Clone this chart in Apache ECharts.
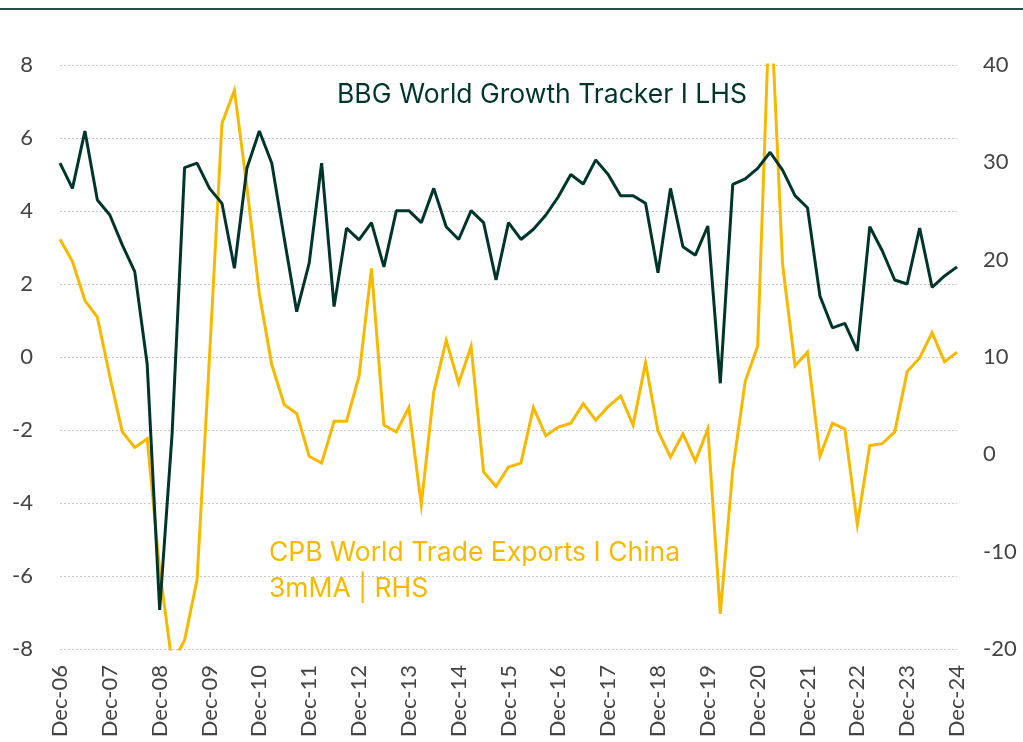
<!DOCTYPE html>
<html>
<head>
<meta charset="utf-8">
<script src="https://cdn.jsdelivr.net/npm/echarts@6/dist/echarts.min.js"></script>
<style>
html,body{margin:0;padding:0;background:#fff;}
#chart{width:1023px;height:742px;}
</style>
</head>
<body>
<div id="chart"></div>
<script>
// Year-end tick labels (quarterly data between them)
const yearLabels = ['Dec-06','Dec-07','Dec-08','Dec-09','Dec-10','Dec-11','Dec-12','Dec-13','Dec-14','Dec-15','Dec-16','Dec-17','Dec-18','Dec-19','Dec-20','Dec-21','Dec-22','Dec-23','Dec-24'];
const quarterMonths = ['Mar','Jun','Sep'];

// BBG World Growth Tracker (LHS), quarterly Dec-06 .. Dec-24
const bbgGrowth = [
  5.31, 4.62, 6.19, 4.30, 3.89, 3.07, 2.34, -0.20, -6.93, -2.09,
  5.19, 5.31, 4.62, 4.21, 2.43, 5.17, 6.19, 5.31, 3.25, 1.24,
  2.57, 5.31, 1.38, 3.53, 3.21, 3.68, 2.47, 4.01, 4.01, 3.68,
  4.62, 3.57, 3.22, 4.01, 3.68, 2.11, 3.68, 3.22, 3.50, 3.89,
  4.39, 5.00, 4.74, 5.40, 5.00, 4.42, 4.42, 4.21, 2.31, 4.62,
  3.02, 2.79, 3.59, -0.72, 4.73, 4.88, 5.17, 5.61, 5.12, 4.42,
  4.09, 1.67, 0.80, 0.92, 0.17, 3.57, 2.91, 2.11, 2.00, 3.53,
  1.91, 2.22, 2.47
];

// CPB World Trade Exports China 3mMA (RHS)
const cpbChina = [
  22.1, 19.8, 15.8, 14.1, 8.0, 2.3, 0.7, 1.6, -11.9, -21.5,
  -19.1, -12.9, 10.0, 34.0, 37.4, 27.5, 16.5, 9.2, 5.1, 4.2,
  -0.2, -0.9, 3.4, 3.4, 8.0, 19.1, 3.0, 2.3, 4.8, -5.2,
  6.4, 11.7, 7.3, 11.1, -1.8, -3.3, -1.3, -0.9, 4.8, 1.9,
  2.8, 3.2, 5.2, 3.5, 4.9, 6.0, 3.0, 9.4, 2.4, -0.3,
  2.1, -0.7, 2.6, -16.4, -1.6, 7.5, 11.1, 48.0, 19.5, 9.1,
  10.5, -0.2, 3.2, 2.6, -7.2, 0.9, 1.1, 2.3, 8.5, 9.9,
  12.5, 9.5, 10.5
];

const categories = [];
yearLabels.forEach((lab, i) => {
  categories.push(lab);
  if (i < yearLabels.length - 1) {
    const yy = lab.slice(4);
    const next = String((parseInt(yy, 10) + 1)).padStart(2, '0');
    quarterMonths.forEach(m => categories.push(m + '-' + next));
  }
});

const darkGreen = '#00352c';
const gold = '#f7b900';
const tickFont = { color: '#444444', fontSize: 22, fontFamily: 'Lato, sans-serif' };

const chart = echarts.init(document.getElementById('chart'));
chart.setOption({
  animation: false,
  backgroundColor: '#ffffff',
  grid: { left: 60, right: 66, top: 65, bottom: 93, containLabel: false },
  xAxis: {
    type: 'category',
    data: categories,
    boundaryGap: false,
    axisLine: { show: false },
    axisTick: { show: false },
    axisLabel: Object.assign({
      interval: 3, rotate: 90, margin: 16
    }, tickFont),
    splitLine: { show: false }
  },
  yAxis: [
    {
      type: 'value', min: -8, max: 8, interval: 2, position: 'left',
      axisLine: { show: false }, axisTick: { show: false },
      axisLabel: Object.assign({ margin: 27 }, tickFont),
      splitLine: { show: true, lineStyle: { color: '#c8c8c8', type: [2, 2], width: 1 } }
    },
    {
      type: 'value', min: -20, max: 40, interval: 10, position: 'right',
      axisLine: { show: false }, axisTick: { show: false },
      axisLabel: Object.assign({ margin: 26 }, tickFont),
      splitLine: { show: false }
    }
  ],
  series: [
    {
      name: 'CPB World Trade Exports I China 3mMA | RHS',
      type: 'line', yAxisIndex: 1, data: cpbChina,
      symbol: 'none', clip: true, z: 2,
      lineStyle: { color: gold, width: 3, join: 'miter' }
    },
    {
      name: 'BBG World Growth Tracker I LHS',
      type: 'line', yAxisIndex: 0, data: bbgGrowth,
      symbol: 'none', clip: true, z: 3,
      lineStyle: { color: darkGreen, width: 3 }
    }
  ],
  graphic: [
    { type: 'line', shape: { x1: 0, y1: 9, x2: 1023, y2: 9 },
      style: { stroke: '#284f4b', lineWidth: 2 } },
    { type: 'text', left: 337, top: 82,
      style: { text: 'BBG World Growth Tracker I LHS', fill: darkGreen,
               font: '26.5px Inter, sans-serif' } },
    { type: 'text', left: 269, top: 535,
      style: { text: 'CPB World Trade Exports I China\n3mMA | RHS', fill: gold,
               font: '26.5px Inter, sans-serif', lineHeight: 36 } }
  ]
});
</script>
</body>
</html>
